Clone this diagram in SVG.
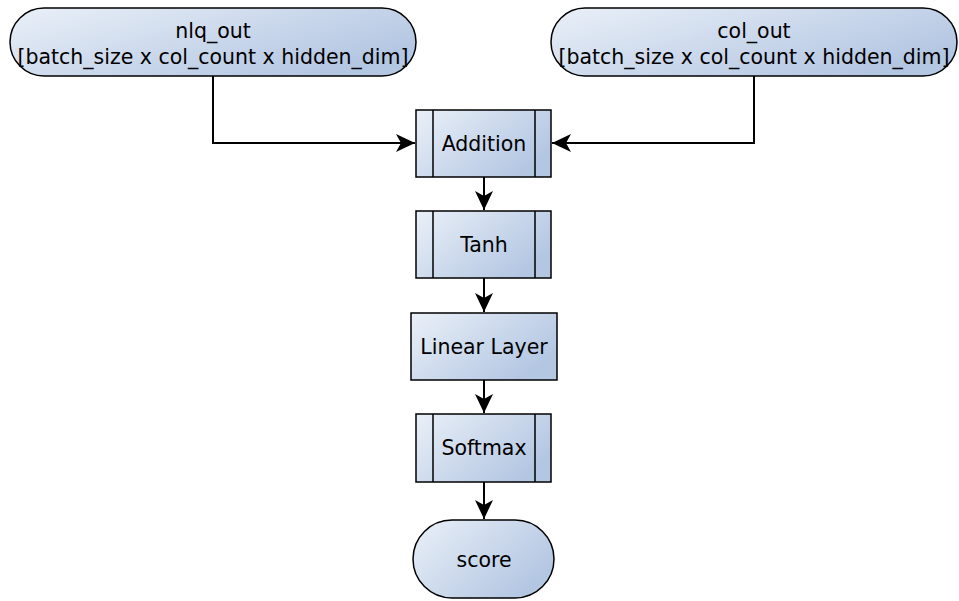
<svg xmlns="http://www.w3.org/2000/svg" width="959" height="601" viewBox="0 0 959 601">
<defs>
<linearGradient id="g" x1="0" y1="0" x2="1" y2="0.6">
<stop offset="0" stop-color="#eaf0f8"/>
<stop offset="1" stop-color="#b3c6e2"/>
</linearGradient>
<marker id="a" markerWidth="20" markerHeight="18" viewBox="0 0 20 18" refX="19" refY="9" orient="auto" markerUnits="userSpaceOnUse">
<path d="M0,0 L19,9 L0,18 L5,9 Z" fill="#000"/>
</marker>
<style>
.n{fill:url(#g);stroke:#000;stroke-width:1.5}
.l{fill:none;stroke:#000;stroke-width:1.5}
.t{font-family:"DejaVu Sans",sans-serif;font-size:20.5px;text-anchor:middle;fill:#000}
.c{fill:none;stroke:#000;stroke-width:2}
</style>
</defs>
<g id="connectors">
<path class="c" d="M213,76 V143 H415" marker-end="url(#a)"/>
<path class="c" d="M754,76 V143 H552" marker-end="url(#a)"/>
<path class="c" d="M484,177 V210" marker-end="url(#a)"/>
<path class="c" d="M484,278 V312" marker-end="url(#a)"/>
<path class="c" d="M484,380 V413" marker-end="url(#a)"/>
<path class="c" d="M484,482 V519" marker-end="url(#a)"/>
</g>
<g id="nlq_out">
<rect class="n" x="10" y="8" width="406" height="68" rx="34"/>
<text class="t" x="213" y="38">nlq_out</text>
<text class="t" x="213" y="64">[batch_size x col_count x hidden_dim]</text>
</g>
<g id="col_out">
<rect class="n" x="551" y="8" width="406" height="68" rx="34"/>
<text class="t" x="754" y="38">col_out</text>
<text class="t" x="754" y="64">[batch_size x col_count x hidden_dim]</text>
</g>
<g id="addition">
<rect class="n" x="416" y="110" width="135" height="67"/>
<path class="l" d="M433,110 V177 M535,110 V177"/>
<text class="t" x="484" y="151">Addition</text>
</g>
<g id="tanh">
<rect class="n" x="416" y="211" width="135" height="67"/>
<path class="l" d="M433,211 V278 M535,211 V278"/>
<text class="t" x="484" y="252">Tanh</text>
</g>
<g id="linear">
<rect class="n" x="411" y="313" width="146" height="67"/>
<text class="t" x="484" y="354">Linear Layer</text>
</g>
<g id="softmax">
<rect class="n" x="416" y="414" width="135" height="68"/>
<path class="l" d="M433,414 V482 M535,414 V482"/>
<text class="t" x="484" y="455">Softmax</text>
</g>
<g id="score">
<rect class="n" x="413" y="520" width="141" height="78" rx="39"/>
<text class="t" x="484" y="567">score</text>
</g>
</svg>
